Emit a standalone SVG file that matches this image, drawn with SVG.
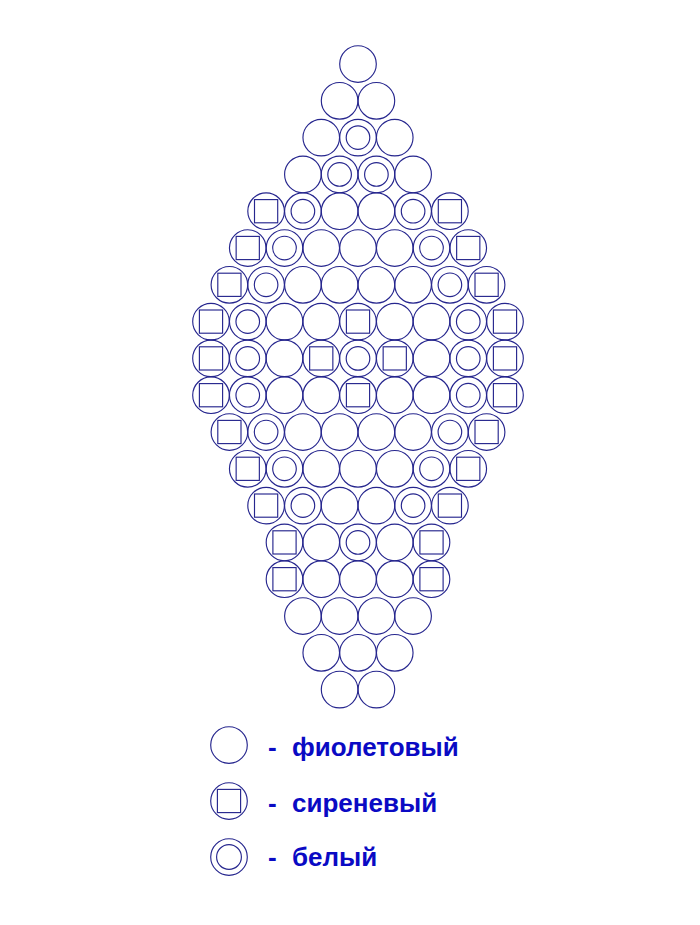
<svg xmlns="http://www.w3.org/2000/svg" xmlns:xlink="http://www.w3.org/1999/xlink" width="700" height="925" viewBox="0 0 700 925">
<style>
.o{fill:none;stroke:#26268e;stroke-width:1.15}
.t{font-family:"Liberation Sans",Arial,sans-serif;font-weight:bold;font-size:26px;fill:#0a0ac4}
</style>
<defs>
<g id="P"><circle class="o" r="18.3"/></g>
<g id="S"><circle class="o" r="18.3"/><rect class="o" x="-11.6" y="-11.6" width="23.2" height="23.2"/></g>
<g id="R"><circle class="o" r="18.3"/><circle class="o" r="11.8"/></g>
</defs>
<rect width="700" height="925" fill="#fff"/>
<g id="beads">
<g id="b0-0" transform="translate(358,64)"><use href="#P"/></g>
<g id="b1-0" transform="translate(339.6,100.8)"><use href="#P"/></g>
<g id="b1-1" transform="translate(376.4,100.8)"><use href="#P"/></g>
<g id="b2-0" transform="translate(321.25,137.6)"><use href="#P"/></g>
<g id="b2-1" transform="translate(358,137.6)"><use href="#R"/></g>
<g id="b2-2" transform="translate(394.75,137.6)"><use href="#P"/></g>
<g id="b3-0" transform="translate(302.9,174.4)"><use href="#P"/></g>
<g id="b3-1" transform="translate(339.6,174.4)"><use href="#R"/></g>
<g id="b3-2" transform="translate(376.4,174.4)"><use href="#R"/></g>
<g id="b3-3" transform="translate(413.1,174.4)"><use href="#P"/></g>
<g id="b4-0" transform="translate(266.1,211.2)"><use href="#S"/></g>
<g id="b4-1" transform="translate(302.9,211.2)"><use href="#R"/></g>
<g id="b4-2" transform="translate(339.6,211.2)"><use href="#P"/></g>
<g id="b4-3" transform="translate(376.4,211.2)"><use href="#P"/></g>
<g id="b4-4" transform="translate(413.1,211.2)"><use href="#R"/></g>
<g id="b4-5" transform="translate(449.9,211.2)"><use href="#S"/></g>
<g id="b5-0" transform="translate(247.75,248)"><use href="#S"/></g>
<g id="b5-1" transform="translate(284.5,248)"><use href="#R"/></g>
<g id="b5-2" transform="translate(321.25,248)"><use href="#P"/></g>
<g id="b5-3" transform="translate(358,248)"><use href="#P"/></g>
<g id="b5-4" transform="translate(394.75,248)"><use href="#P"/></g>
<g id="b5-5" transform="translate(431.5,248)"><use href="#R"/></g>
<g id="b5-6" transform="translate(468.25,248)"><use href="#S"/></g>
<g id="b6-0" transform="translate(229.4,284.8)"><use href="#S"/></g>
<g id="b6-1" transform="translate(266.1,284.8)"><use href="#R"/></g>
<g id="b6-2" transform="translate(302.9,284.8)"><use href="#P"/></g>
<g id="b6-3" transform="translate(339.6,284.8)"><use href="#P"/></g>
<g id="b6-4" transform="translate(376.4,284.8)"><use href="#P"/></g>
<g id="b6-5" transform="translate(413.1,284.8)"><use href="#P"/></g>
<g id="b6-6" transform="translate(449.9,284.8)"><use href="#R"/></g>
<g id="b6-7" transform="translate(486.6,284.8)"><use href="#S"/></g>
<g id="b7-0" transform="translate(211,321.6)"><use href="#S"/></g>
<g id="b7-1" transform="translate(247.75,321.6)"><use href="#R"/></g>
<g id="b7-2" transform="translate(284.5,321.6)"><use href="#P"/></g>
<g id="b7-3" transform="translate(321.25,321.6)"><use href="#P"/></g>
<g id="b7-4" transform="translate(358,321.6)"><use href="#S"/></g>
<g id="b7-5" transform="translate(394.75,321.6)"><use href="#P"/></g>
<g id="b7-6" transform="translate(431.5,321.6)"><use href="#P"/></g>
<g id="b7-7" transform="translate(468.25,321.6)"><use href="#R"/></g>
<g id="b7-8" transform="translate(505,321.6)"><use href="#S"/></g>
<g id="b8-0" transform="translate(211,358.4)"><use href="#S"/></g>
<g id="b8-1" transform="translate(247.75,358.4)"><use href="#R"/></g>
<g id="b8-2" transform="translate(284.5,358.4)"><use href="#P"/></g>
<g id="b8-3" transform="translate(321.25,358.4)"><use href="#S"/></g>
<g id="b8-4" transform="translate(358,358.4)"><use href="#R"/></g>
<g id="b8-5" transform="translate(394.75,358.4)"><use href="#S"/></g>
<g id="b8-6" transform="translate(431.5,358.4)"><use href="#P"/></g>
<g id="b8-7" transform="translate(468.25,358.4)"><use href="#R"/></g>
<g id="b8-8" transform="translate(505,358.4)"><use href="#S"/></g>
<g id="b9-0" transform="translate(211,395.2)"><use href="#S"/></g>
<g id="b9-1" transform="translate(247.75,395.2)"><use href="#R"/></g>
<g id="b9-2" transform="translate(284.5,395.2)"><use href="#P"/></g>
<g id="b9-3" transform="translate(321.25,395.2)"><use href="#P"/></g>
<g id="b9-4" transform="translate(358,395.2)"><use href="#S"/></g>
<g id="b9-5" transform="translate(394.75,395.2)"><use href="#P"/></g>
<g id="b9-6" transform="translate(431.5,395.2)"><use href="#P"/></g>
<g id="b9-7" transform="translate(468.25,395.2)"><use href="#R"/></g>
<g id="b9-8" transform="translate(505,395.2)"><use href="#S"/></g>
<g id="b10-0" transform="translate(229.4,432)"><use href="#S"/></g>
<g id="b10-1" transform="translate(266.1,432)"><use href="#R"/></g>
<g id="b10-2" transform="translate(302.9,432)"><use href="#P"/></g>
<g id="b10-3" transform="translate(339.6,432)"><use href="#P"/></g>
<g id="b10-4" transform="translate(376.4,432)"><use href="#P"/></g>
<g id="b10-5" transform="translate(413.1,432)"><use href="#P"/></g>
<g id="b10-6" transform="translate(449.9,432)"><use href="#R"/></g>
<g id="b10-7" transform="translate(486.6,432)"><use href="#S"/></g>
<g id="b11-0" transform="translate(247.75,468.8)"><use href="#S"/></g>
<g id="b11-1" transform="translate(284.5,468.8)"><use href="#R"/></g>
<g id="b11-2" transform="translate(321.25,468.8)"><use href="#P"/></g>
<g id="b11-3" transform="translate(358,468.8)"><use href="#P"/></g>
<g id="b11-4" transform="translate(394.75,468.8)"><use href="#P"/></g>
<g id="b11-5" transform="translate(431.5,468.8)"><use href="#R"/></g>
<g id="b11-6" transform="translate(468.25,468.8)"><use href="#S"/></g>
<g id="b12-0" transform="translate(266.1,505.6)"><use href="#S"/></g>
<g id="b12-1" transform="translate(302.9,505.6)"><use href="#R"/></g>
<g id="b12-2" transform="translate(339.6,505.6)"><use href="#P"/></g>
<g id="b12-3" transform="translate(376.4,505.6)"><use href="#P"/></g>
<g id="b12-4" transform="translate(413.1,505.6)"><use href="#R"/></g>
<g id="b12-5" transform="translate(449.9,505.6)"><use href="#S"/></g>
<g id="b13-0" transform="translate(284.5,542.4)"><use href="#S"/></g>
<g id="b13-1" transform="translate(321.25,542.4)"><use href="#P"/></g>
<g id="b13-2" transform="translate(358,542.4)"><use href="#R"/></g>
<g id="b13-3" transform="translate(394.75,542.4)"><use href="#P"/></g>
<g id="b13-4" transform="translate(431.5,542.4)"><use href="#S"/></g>
<g id="b14-0" transform="translate(284.5,579.2)"><use href="#S"/></g>
<g id="b14-1" transform="translate(321.25,579.2)"><use href="#P"/></g>
<g id="b14-2" transform="translate(358,579.2)"><use href="#P"/></g>
<g id="b14-3" transform="translate(394.75,579.2)"><use href="#P"/></g>
<g id="b14-4" transform="translate(431.5,579.2)"><use href="#S"/></g>
<g id="b15-0" transform="translate(302.9,616)"><use href="#P"/></g>
<g id="b15-1" transform="translate(339.6,616)"><use href="#P"/></g>
<g id="b15-2" transform="translate(376.4,616)"><use href="#P"/></g>
<g id="b15-3" transform="translate(413.1,616)"><use href="#P"/></g>
<g id="b16-0" transform="translate(321.25,652.8)"><use href="#P"/></g>
<g id="b16-1" transform="translate(358,652.8)"><use href="#P"/></g>
<g id="b16-2" transform="translate(394.75,652.8)"><use href="#P"/></g>
<g id="b17-0" transform="translate(339.6,689.6)"><use href="#P"/></g>
<g id="b17-1" transform="translate(376.4,689.6)"><use href="#P"/></g>
</g>
<g id="legend">
<g id="leg-violet"><use href="#P" transform="translate(229,745)"/><text class="t" y="756"><tspan x="268">-</tspan><tspan x="292">фиолетовый</tspan></text></g>
<g id="leg-lilac"><use href="#S" transform="translate(229,801)"/><text class="t" y="812"><tspan x="268">-</tspan><tspan x="292">сиреневый</tspan></text></g>
<g id="leg-white"><g transform="translate(229,857)"><circle class="o" r="18.3"/><circle class="o" r="12.4"/></g><text class="t" y="866"><tspan x="268">-</tspan><tspan x="292">белый</tspan></text></g>
</g>
<g id="connectors"/>
</svg>
